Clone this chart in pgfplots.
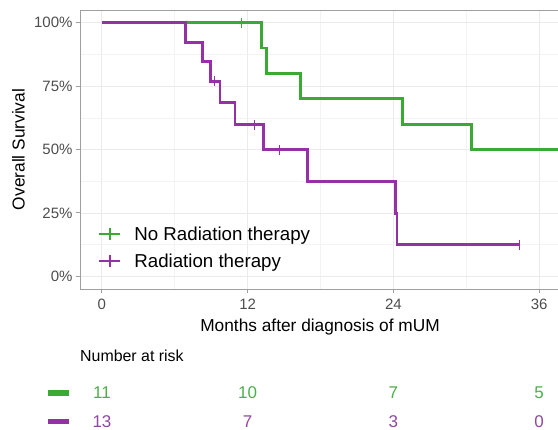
\documentclass[border=0pt]{standalone}
\usepackage{pgfplots}
\pgfplotsset{compat=1.18}
\usepackage{fontspec}
\setmainfont{Liberation Sans}
\definecolor{kmgreen}{RGB}{58,170,53}
\definecolor{kmpurple}{RGB}{150,48,166}
\definecolor{txtgreen}{RGB}{77,175,74}
\definecolor{txtpurple}{RGB}{142,72,158}
\definecolor{tickgray}{RGB}{77,77,77}
\definecolor{gridgray}{RGB}{235,235,235}
\begin{document}
\begin{tikzpicture}
\begin{axis}[
  at={(80pt,141pt)}, anchor=south west,
  scale only axis, width=481pt, height=279pt,
  xmin=-1.8, xmax=37.8, ymin=-0.05, ymax=1.05,
  xtick={0,12,24,36}, xticklabels={0,12,24,36},
  ytick={0,0.25,0.5,0.75,1}, yticklabels={0\%,25\%,50\%,75\%,100\%},
  minor xtick={6,18,30}, minor ytick={0.125,0.375,0.625,0.875},
  grid=both,
  major grid style={gridgray, line width=0.8pt},
  minor grid style={gridgray!60, line width=0.5pt},
  minor tick length=0pt,
  major tick length=4pt, tick align=outside,
  xtick pos=bottom, ytick pos=left,
  tick style={gray!75, line width=0.9pt},
  axis line style={gray!75, line width=0.9pt},
  ticklabel style={font=\fontsize{15}{18}\selectfont, text=tickgray},
  xticklabel style={yshift=-3pt},
  xlabel={Months after diagnosis of mUM},
  ylabel={Overall Survival},
  label style={font=\fontsize{17.3}{20}\selectfont, text=black},
  xlabel style={at={(axis description cs:0.499,-0.135)}, anchor=center},
  ylabel style={at={(axis description cs:-0.128,0.5)}, anchor=center},
  legend style={at={(axis cs:-0.55,0.205)}, anchor=north west, draw=none, fill=none,
    font=\fontsize{18.7}{22}\selectfont, legend cell align=left,
    nodes={inner sep=0pt}, column sep=13pt, row sep=12pt},
  legend image code/.code={
    \draw[#1, line width=2pt] (0pt,0pt) -- (21pt,0pt);
    \draw[#1, line width=1.6pt] (10.5pt,-6pt) -- (10.5pt,6pt);
  },
]
\addplot[kmgreen, line width=2.8pt, const plot, mark=none] coordinates {
  (0,1) (13.15,0.9) (13.56,0.8) (16.37,0.7) (24.76,0.6) (30.45,0.5) (37.8,0.5)};
\addlegendentry{No Radiation therapy}
\addplot[kmpurple, line width=2.8pt, const plot, mark=none] coordinates {
  (0,1) (6.9,0.923) (8.27,0.846) (8.95,0.769) (9.72,0.684) (10.96,0.598)
  (13.29,0.499) (16.93,0.374) (24.2,0.249) (24.3,0.125) (34.4,0.125)};
\addlegendentry{Radiation therapy}
\addplot[kmgreen, only marks, mark=|, mark size=5pt, mark options={line width=1.3pt}, forget plot]
  coordinates {(11.5,1)};
\addplot[kmpurple, only marks, mark=|, mark size=5pt, mark options={line width=1.3pt}, forget plot]
  coordinates {(9.3,0.769) (12.55,0.598) (14.6,0.499) (34.4,0.125)};
\end{axis}
\begin{axis}[
  at={(102pt,0pt)}, anchor=south west,
  scale only axis, width=437pt, height=430pt,
  xmin=0, xmax=36, ymin=0, ymax=430,
  hide axis, clip=false,
]
\node[anchor=west, inner sep=0pt, font=\fontsize{15.9}{19}\selectfont] at (axis cs:-1.81,74) {Number at risk};
\addplot[kmgreen, line width=5.5pt] coordinates {(-4.45,37) (-2.72,37)};
\addplot[kmpurple, line width=5.5pt] coordinates {(-4.45,8.5) (-2.72,8.5)};
\addplot[draw=none, mark=none, nodes near coords, point meta=explicit symbolic,
  nodes near coords style={anchor=center, font=\fontsize{17}{20}\selectfont, text=txtgreen}]
  table[meta=n] {
x y n
0 37 11
12 37 10
24 37 7
36 37 5
};
\addplot[draw=none, mark=none, nodes near coords, point meta=explicit symbolic,
  nodes near coords style={anchor=center, font=\fontsize{17}{20}\selectfont, text=txtpurple}]
  table[meta=n] {
x y n
0 8.5 13
12 8.5 7
24 8.5 3
36 8.5 0
};
\end{axis}
\pgfresetboundingbox
\useasboundingbox (0pt,0pt) rectangle (558pt,430pt);
\end{tikzpicture}
\end{document}
